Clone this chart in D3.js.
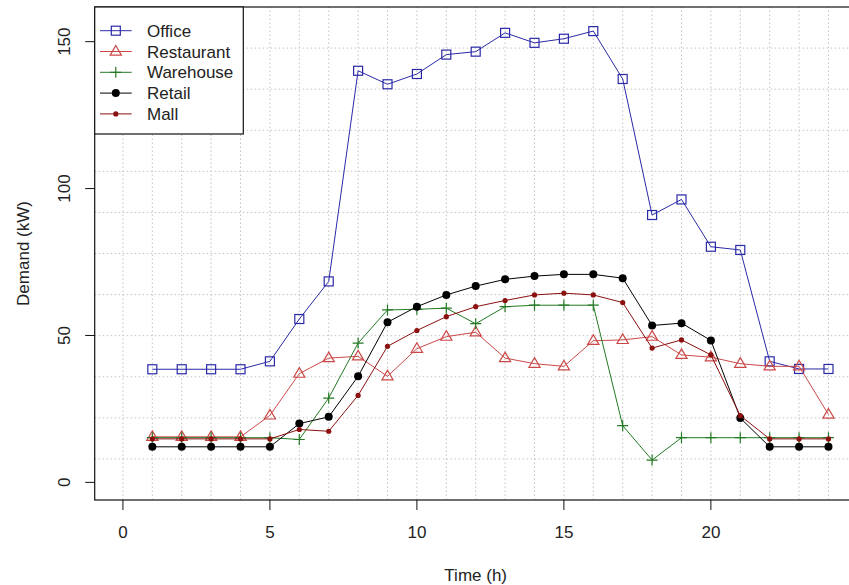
<!DOCTYPE html>
<html>
<head>
<meta charset="utf-8">
<script src="https://cdn.jsdelivr.net/npm/d3@7"></script>
<style>
  body { margin: 0; background: #fff; }
  text { font-family: "Liberation Sans", Arial, sans-serif; fill: #222; }
</style>
</head>
<body>
<svg id="chart" width="849" height="585"></svg>
<script>
const width = 849;
const height = 585;

// hours 1..24
const hours = d3.range(1, 25);

const office = [38.5, 38.5, 38.5, 38.5, 41.2, 55.6, 68.4, 140.1, 135.5, 139.0, 145.6, 146.6,
    153.0, 149.6, 151.0, 153.6, 137.3, 91.0, 96.3, 80.2, 79.1, 41.2, 38.6, 38.6];
const restaurant = [15.5, 15.5, 15.5, 15.5, 22.8, 37.0, 42.3, 42.9, 36.1, 45.5, 49.6, 51.1,
    42.3, 40.4, 39.5, 48.2, 48.5, 49.6, 43.4, 42.6, 40.4, 39.5, 39.5, 23.1];
const warehouse = [15.2, 15.2, 15.2, 15.2, 15.2, 14.6, 28.7, 47.4, 58.7, 58.9, 59.3, 54.0,
    59.8, 60.3, 60.3, 60.3, 19.3, 7.6, 15.2, 15.2, 15.2, 15.2, 15.2, 15.2];
const retail = [12.1, 12.1, 12.1, 12.1, 12.1, 20.0, 22.3, 36.1, 54.5, 59.8, 63.8, 66.8,
    69.1, 70.2, 70.8, 70.8, 69.5, 53.4, 54.2, 48.3, 21.9, 12.1, 12.1, 12.1];
const mall = [14.8, 14.8, 14.8, 14.8, 14.8, 18.0, 17.4, 29.6, 46.3, 51.7, 56.4, 59.8,
    61.9, 63.8, 64.4, 63.8, 61.2, 45.7, 48.5, 43.4, 22.7, 14.8, 14.8, 14.8];

const seriesNames = ["Office", "Restaurant", "Warehouse", "Retail", "Mall"];
const seriesValues = [office, restaurant, warehouse, retail, mall];
const seriesColors = ["#2a2aa8", "#cc4848", "#237a23", "#000000", "#8b1010"];
const seriesShapes = ["square", "triangle", "plus", "circle", "dot"];

const xTicks = [0, 5, 10, 15, 20];
const yTicks = [0, 50, 100, 150];

const svg = d3.select("#chart");

// R style usr ranges (box runs off the right edge like in the original)
const x = d3.scaleLinear().domain([-0.96, 24.96]).range([94.7, 856.7]);
const y = d3.scaleLinear().domain([-6, 161.8]).range([500, 7]);

// grid: vertical at every hour, horizontal splitting the panel in 12
const grid = svg.append("g")
    .attr("stroke", "#c4c4c4")
    .attr("stroke-width", 1)
    .attr("stroke-dasharray", "1.5 2.5");
grid.selectAll("line.v")
    .data(d3.range(0, 26))
    .enter()
    .append("line")
    .attr("x1", d => x(d)).attr("x2", d => x(d))
    .attr("y1", y.range()[0]).attr("y2", y.range()[1]);
const yd = y.domain();
grid.selectAll("line.h")
    .data(d3.range(1, 12).map(k => yd[0] + k * (yd[1] - yd[0]) / 12))
    .enter()
    .append("line")
    .attr("x1", x.range()[0]).attr("x2", x.range()[1])
    .attr("y1", d => y(d)).attr("y2", d => y(d));

// box
svg.append("rect")
    .attr("x", x.range()[0])
    .attr("y", y.range()[1])
    .attr("width", x.range()[1] - x.range()[0])
    .attr("height", y.range()[0] - y.range()[1])
    .attr("fill", "none")
    .attr("stroke", "#111")
    .attr("stroke-width", 1.2);

// axes
const xAxis = svg.append("g").attr("transform", `translate(0,${y.range()[0]})`);
xAxis.selectAll("line")
    .data(xTicks).enter().append("line")
    .attr("x1", d => x(d)).attr("x2", d => x(d))
    .attr("y1", 0).attr("y2", 10)
    .attr("stroke", "#111");
xAxis.selectAll("text")
    .data(xTicks).enter().append("text")
    .attr("x", d => x(d)).attr("y", 38)
    .attr("text-anchor", "middle")
    .attr("font-size", 17)
    .text(d => d);

const yAxis = svg.append("g").attr("transform", `translate(${x.range()[0]},0)`);
yAxis.selectAll("line")
    .data(yTicks).enter().append("line")
    .attr("x1", -9.5).attr("x2", 0)
    .attr("y1", d => y(d)).attr("y2", d => y(d))
    .attr("stroke", "#111");
yAxis.selectAll("text")
    .data(yTicks).enter().append("text")
    .attr("transform", d => `translate(-24.5,${y(d)}) rotate(-90)`)
    .attr("text-anchor", "middle")
    .attr("font-size", 17)
    .text(d => d);

svg.append("text")
    .attr("x", (x.range()[0] + x.range()[1]) / 2)
    .attr("y", 581)
    .attr("text-anchor", "middle")
    .attr("font-size", 17)
    .text("Time (h)");
svg.append("text")
    .attr("transform", `translate(29,${(y.range()[0] + y.range()[1]) / 2}) rotate(-90)`)
    .attr("text-anchor", "middle")
    .attr("font-size", 17)
    .text("Demand (kW)");

function drawMarker(g, shape, color) {
    if (shape === "square") {
        g.append("rect").attr("x", -4.5).attr("y", -4.5).attr("width", 9).attr("height", 9)
            .attr("fill", "none").attr("stroke", color).attr("stroke-width", 1.2);
    } else if (shape === "triangle") {
        g.append("path").attr("d", "M0,-6L5.6,3.6L-5.6,3.6Z")
            .attr("fill", "none").attr("stroke", color).attr("stroke-width", 1.2);
    } else if (shape === "plus") {
        g.append("path").attr("d", "M-5.5,0H5.5M0,-5.5V5.5")
            .attr("stroke", color).attr("stroke-width", 1.2);
    } else if (shape === "circle") {
        g.append("circle").attr("r", 4).attr("fill", color);
    } else {
        g.append("circle").attr("r", 2.6).attr("fill", color);
    }
}

const line = d3.line()
    .x((d, i) => x(hours[i]))
    .y(d => y(d));

seriesValues.forEach((vals, s) => {
    const g = svg.append("g");
    g.append("path")
        .attr("d", line(vals))
        .attr("fill", "none")
        .attr("stroke", seriesColors[s])
        .attr("stroke-width", 1);
    vals.forEach((v, i) => {
        const m = g.append("g").attr("transform", `translate(${x(hours[i])},${y(v)})`);
        drawMarker(m, seriesShapes[s], seriesColors[s]);
    });
});

// legend
const legend = svg.append("g");
legend.append("rect")
    .attr("x", x.range()[0]).attr("y", y.range()[1])
    .attr("width", 148.6).attr("height", 127)
    .attr("fill", "#fff")
    .attr("stroke", "#111")
    .attr("stroke-width", 1.2);
seriesNames.forEach((name, s) => {
    const ly = 30.7 + s * 20.8;
    legend.append("line")
        .attr("x1", 100).attr("x2", 131.7)
        .attr("y1", ly).attr("y2", ly)
        .attr("stroke", seriesColors[s]);
    const m = legend.append("g").attr("transform", `translate(115.8,${ly})`);
    drawMarker(m, seriesShapes[s], seriesColors[s]);
    legend.append("text")
        .attr("x", 147)
        .attr("y", ly + 6)
        .attr("font-size", 17)
        .text(name);
});
</script>
</body>
</html>
